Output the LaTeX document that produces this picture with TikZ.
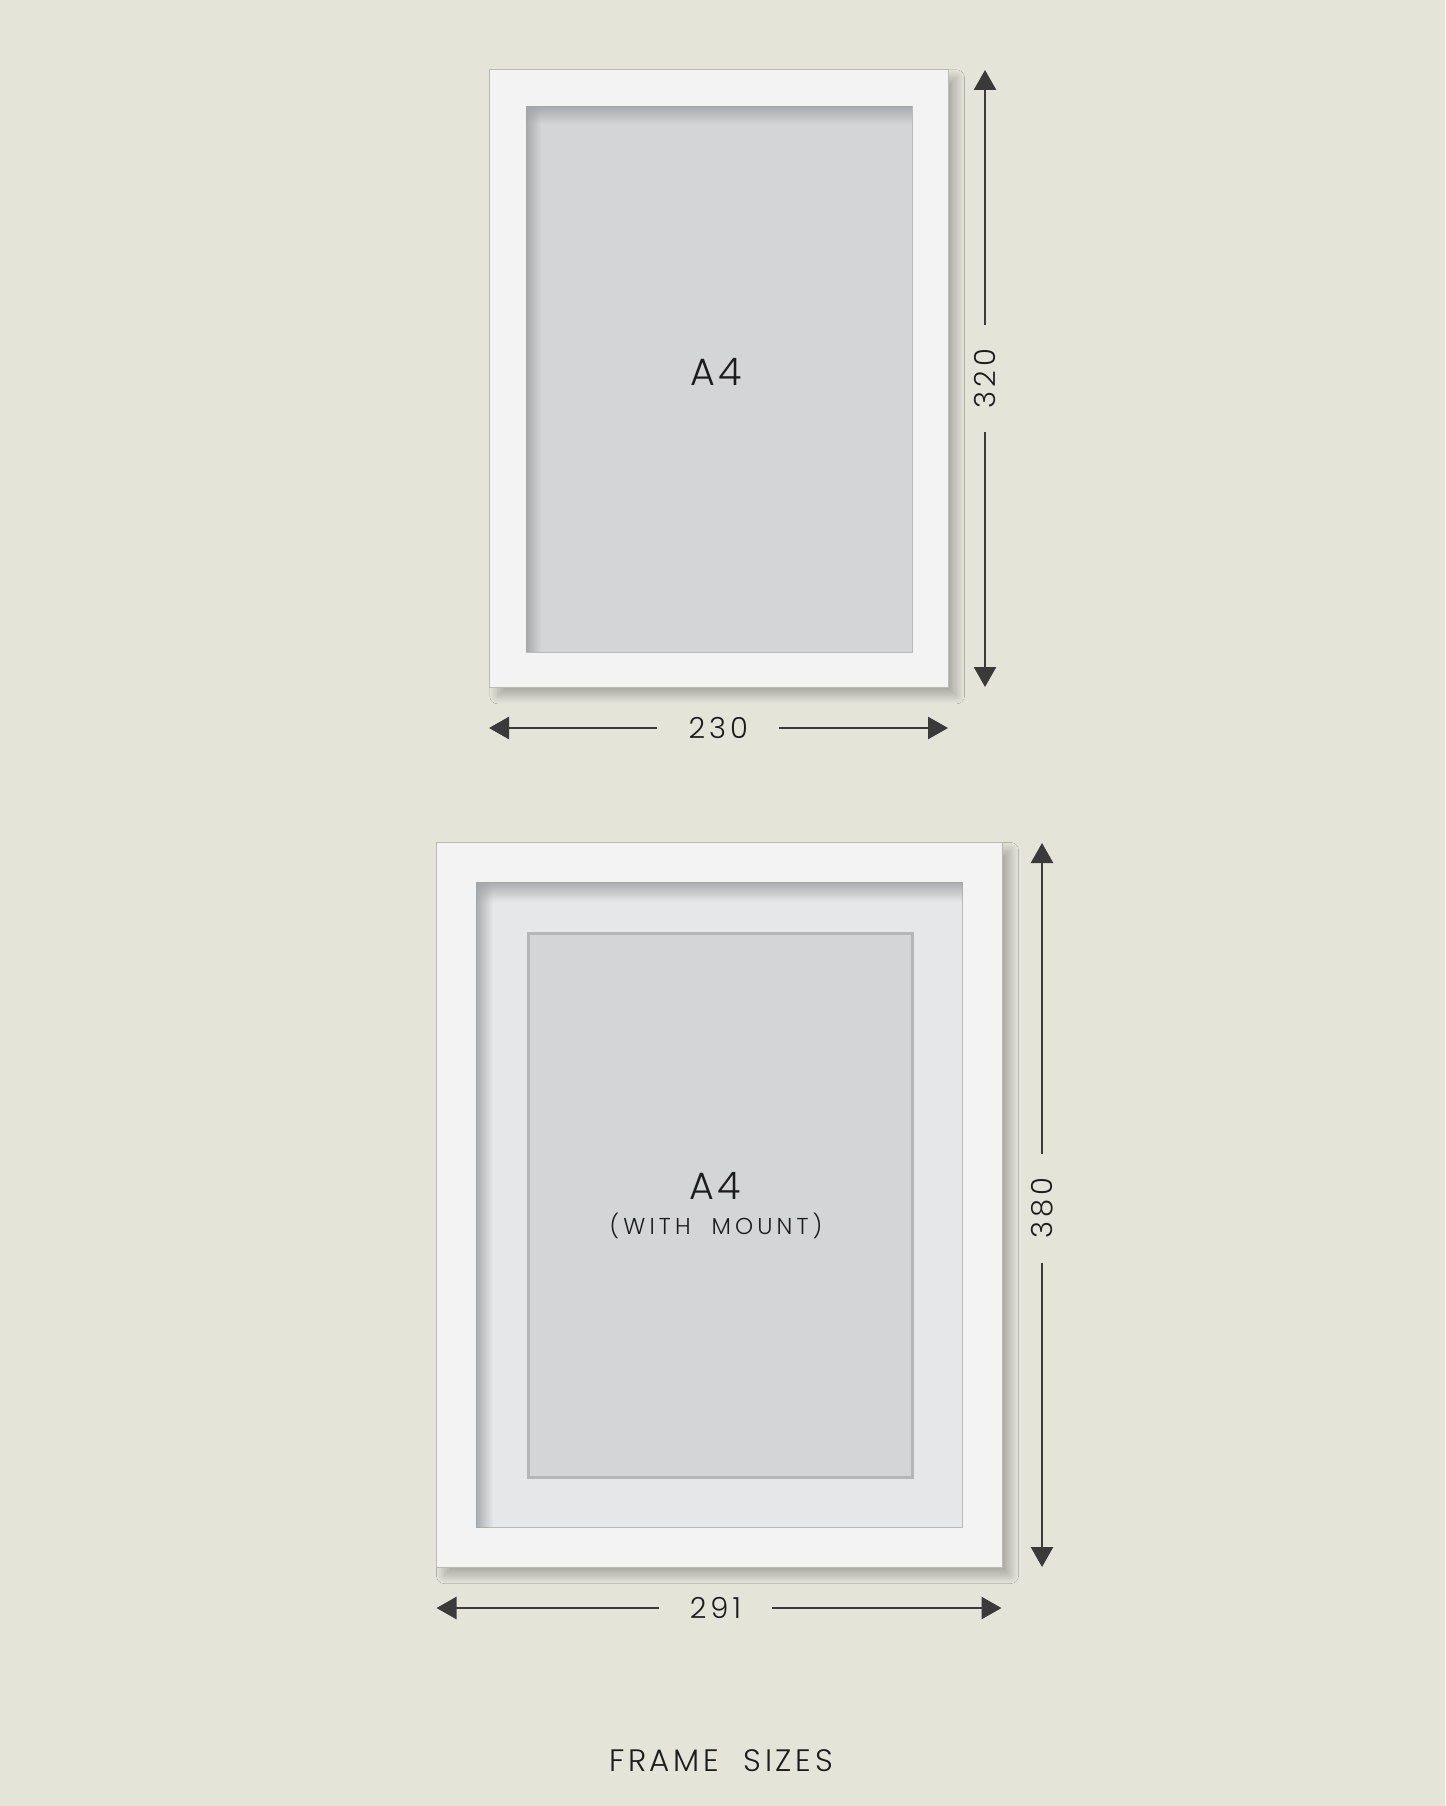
\documentclass[tikz,border=0pt]{standalone}
\usepackage{fontspec}
\setmainfont{Poppins Light}
\usetikzlibrary{positioning,arrows.meta,shadows.blur,fadings}

\definecolor{wallbg}{HTML}{E4E4D9}
\definecolor{framewhite}{HTML}{F3F3F3}
\definecolor{frameedge}{HTML}{B9B9B6}
\definecolor{paper}{HTML}{D4D5D7}
\definecolor{mount}{HTML}{E6E7E9}
\definecolor{insetdark}{HTML}{A4A5A7}
\definecolor{windowedge}{HTML}{B5B6B8}
\definecolor{dimgray}{HTML}{3A3A3A}
\definecolor{inktext}{HTML}{1C1C1C}

\begin{document}
\begin{tikzpicture}[x=1pt, y=-1pt,
    frame/.style={draw=frameedge, line width=1pt, fill=framewhite, inner sep=0pt, anchor=north west,
        blur shadow={shadow xshift=8pt, shadow yshift=-8pt, shadow blur radius=8pt,
            shadow blur steps=30, shadow opacity=26, shadow blur extra rounding=0pt}},
    opening/.style={draw=frameedge, line width=0.6pt, inner sep=0pt, anchor=north west},
    window/.style={draw=windowedge, line width=2.5pt, fill=paper, inner sep=0pt, anchor=north west},
    inset/.style={fill=insetdark, fill opacity=0.9},
    dimline/.style={draw=dimgray, line width=2.6pt, -{Triangle[length=20pt, width=22pt]}},
    dimlabel/.style={inner sep=0pt, text=inktext, font=\fontsize{29}{29}\selectfont\addfontfeatures{LetterSpace=14}},
    sizelabel/.style={inner sep=0pt, text=inktext, font=\fontsize{38}{38}\selectfont\addfontfeatures{LetterSpace=8}},
    ]

    % wall
    \fill[wallbg] (0,0) rectangle (1445,1806);
    \useasboundingbox (0,0) rectangle (1445,1806);

    % ---- A4 frame ----
    \node[frame, minimum width=458.6pt, minimum height=618pt] (fa) at (489.3,69.3) {};
    \node[opening, fill=paper, minimum width=385.8pt, minimum height=545.7pt] (oa) at (526,106) {};
    \fill[inset, path fading=east] (oa.north west) rectangle ([xshift=15pt]oa.south west);
    \fill[inset, path fading=south] (oa.north west) rectangle ([yshift=-18pt]oa.north east);
    \node[sizelabel] (a4) at (716,372) {A4};

    % dimensions
    \coordinate (fa top) at (985,70);
    \coordinate (fa bottom) at (985,687);
    \coordinate (fa left) at (489,728);
    \coordinate (fa right) at (948,728);
    \node[dimlabel, rotate=90, minimum width=107pt] (h320) at (985,378.5) {320};
    \node[dimlabel, minimum width=121.5pt] (w230) at (718.3,728) {230};
    \draw[dimline] (h320.east) -- (fa top);
    \draw[dimline] (h320.west) -- (fa bottom);
    \draw[dimline] (w230.west) -- (fa left);
    \draw[dimline] (w230.east) -- (fa right);

    % ---- A4 frame with mount ----
    \node[frame, minimum width=566pt, minimum height=725pt] (fm) at (436,842) {};
    \node[opening, fill=mount, minimum width=486pt, minimum height=645pt] (om) at (476,882) {};
    \fill[inset, path fading=east] (om.north west) rectangle ([xshift=17pt]om.south west);
    \fill[inset, path fading=south] (om.north west) rectangle ([yshift=-20pt]om.north east);
    \node[window, minimum width=384.4pt, minimum height=544pt] (wm) at (527,932) {};
    \node[sizelabel] (a4m) at (715,1185.5) {A4};
    \node[sizelabel, font=\fontsize{23}{23}\selectfont\addfontfeatures{LetterSpace=18}] (mnt) at (716,1226) {(WITH~~MOUNT)};

    % dimensions
    \coordinate (fm top) at (1042,843);
    \coordinate (fm bottom) at (1042,1567);
    \coordinate (fm left) at (436.5,1608);
    \coordinate (fm right) at (1001.5,1608);
    \node[dimlabel, rotate=90, minimum width=108.7pt] (h380) at (1042,1208.3) {380};
    \node[dimlabel, minimum width=113pt] (w291) at (715.5,1608) {291};
    \draw[dimline] (h380.east) -- (fm top);
    \draw[dimline] (h380.west) -- (fm bottom);
    \draw[dimline] (w291.west) -- (fm left);
    \draw[dimline] (w291.east) -- (fm right);

    % caption
    \node[sizelabel, font=\fontsize{31}{31}\selectfont\addfontfeatures{LetterSpace=12}] (title) at (721,1761) {FRAME~~SIZES};

\end{tikzpicture}
\end{document}
